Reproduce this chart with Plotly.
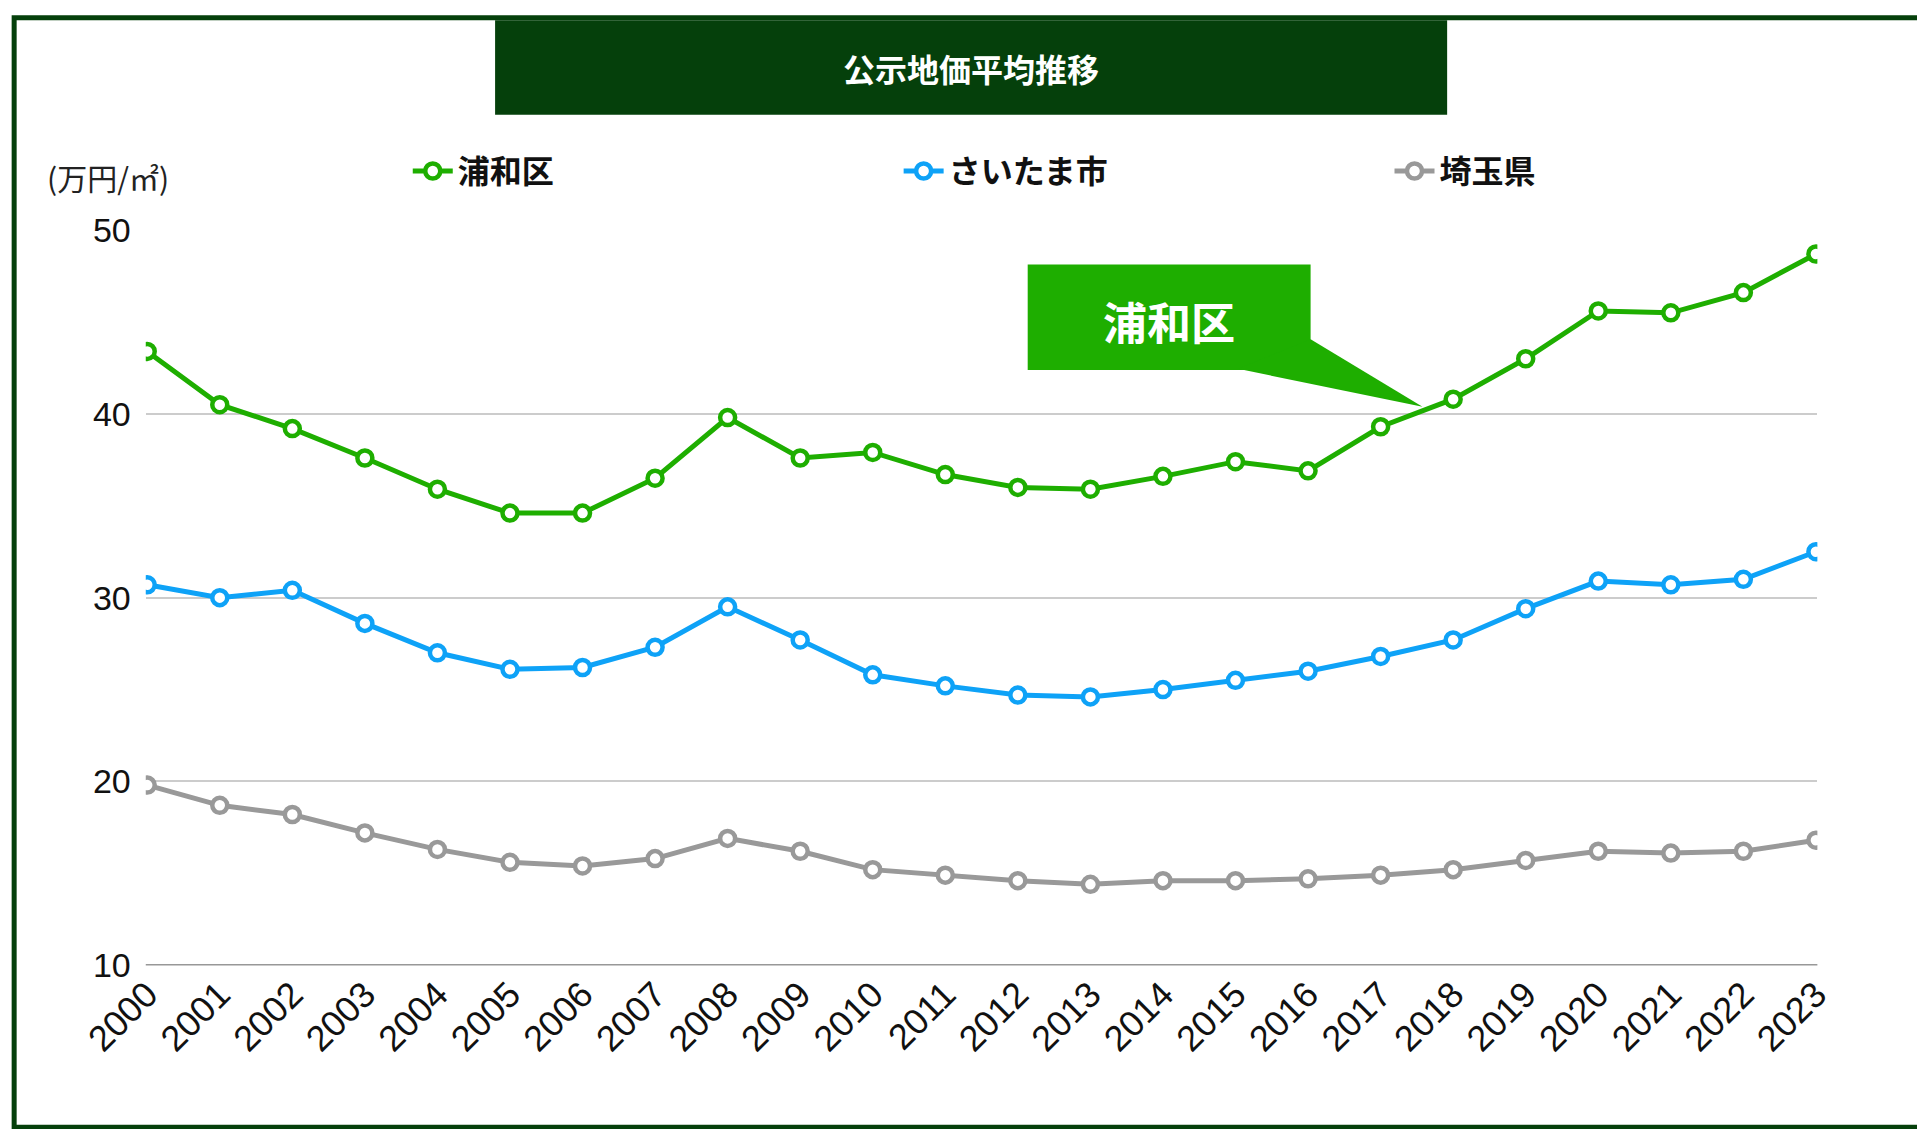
import plotly.graph_objects as go

years = [str(y) for y in range(2000, 2024)]
urawa = [43.4, 40.5, 39.2, 37.6, 35.9, 34.6, 34.6, 36.5, 39.8, 37.6, 37.9, 36.7,
         36.0, 35.9, 36.6, 37.4, 36.9, 39.3, 40.8, 43.0, 45.6, 45.5, 46.6, 48.7]
saitama_city = [30.7, 30.0, 30.4, 28.6, 27.0, 26.1, 26.2, 27.3, 29.5, 27.7, 25.8, 25.2,
                24.7, 24.6, 25.0, 25.5, 26.0, 26.8, 27.7, 29.4, 30.9, 30.7, 31.0, 32.5]
saitama_pref = [19.8, 18.7, 18.2, 17.2, 16.3, 15.6, 15.4, 15.8, 16.9, 16.2, 15.2, 14.9,
                14.6, 14.4, 14.6, 14.6, 14.7, 14.9, 15.2, 15.7, 16.2, 16.1, 16.2, 16.8]

W, H = 1565, 920  # reference drawing coordinates
def px(x): return x / W
def py(y): return 1 - y / H

FONT = "Noto Sans CJK JP"
fig = go.Figure()
for name, vals, color in [("浦和区", urawa, "#1eae00"),
                          ("さいたま市", saitama_city, "#0ea2f7"),
                          ("埼玉県", saitama_pref, "#999999")]:
    fig.add_trace(go.Scatter(
        x=years, y=vals, name=f"<b>{name}</b>", mode="lines+markers",
        line=dict(color=color, width=5),
        marker=dict(size=15, color="white", line=dict(color=color, width=4.5)),
    ))

shapes = [
    # outer border
    dict(type="rect", xref="paper", yref="paper", x0=px(5), x1=px(1560), y0=py(912), y1=py(8),
         line=dict(color="#05400b", width=5)),
    # title bar
    dict(type="rect", xref="paper", yref="paper", x0=px(396), x1=px(1170), y0=py(87), y1=py(10),
         fillcolor="#05400b", line=dict(width=0)),
    # callout box
    dict(type="rect", xref="paper", yref="paper", x0=px(829), x1=px(1059), y0=py(295), y1=py(209),
         fillcolor="#1eae00", line=dict(width=0)),
    dict(type="path", xref="paper", yref="paper",
         path=f"M {px(1000)},{py(294)} L {px(1150)},{py(325)} L {px(1059)},{py(270)} Z",
         fillcolor="#1eae00", line=dict(width=0)),
]

annotations = [
    dict(text="<b>公示地価平均推移</b>", xref="paper", yref="paper", x=px(783), y=py(48),
         yshift=24, showarrow=False, font=dict(family=FONT, size=32, color="white")),
    dict(text="<b>浦和区</b>", xref="paper", yref="paper", x=px(944), y=py(252),
         yshift=30, showarrow=False, font=dict(family=FONT, size=44, color="white")),
    dict(text="(万円/㎡)", xref="paper", yref="paper", x=px(30), y=py(133), xanchor="left",
         yshift=18, showarrow=False, font=dict(family=FONT, size=30, color="#222")),
]

fig.update_layout(
    width=1925, height=1129,
    paper_bgcolor="white", plot_bgcolor="white",
    margin=dict(l=0, r=0, t=0, b=0),
    shapes=shapes, annotations=annotations,
    font=dict(family=FONT, color="#111"),
    legend=dict(orientation="h", x=px(325), y=py(133), xanchor="left", yanchor="middle",
                entrywidth=0.255, entrywidthmode="fraction",
                font=dict(family=FONT, size=32, color="#111"), itemwidth=40),
    xaxis=dict(domain=[px(112), px(1471)], tickangle=-45, showgrid=False, automargin=False,
               tickfont=dict(family="Liberation Sans", size=36, color="#111"),
               showline=False, range=[-0.02, 23.02], ticks=""),
    yaxis=dict(domain=[py(780), py(181)], range=[10, 50], dtick=10, automargin=False,
               gridcolor="#cccccc", gridwidth=1.5, zeroline=False,
               tickfont=dict(family="Liberation Sans", size=34, color="#111"),
               ticks="", ticklabelstandoff=14),
)
fig.add_hline(y=10, line=dict(color="#333", width=1.5))

fig.write_html("out.html")
